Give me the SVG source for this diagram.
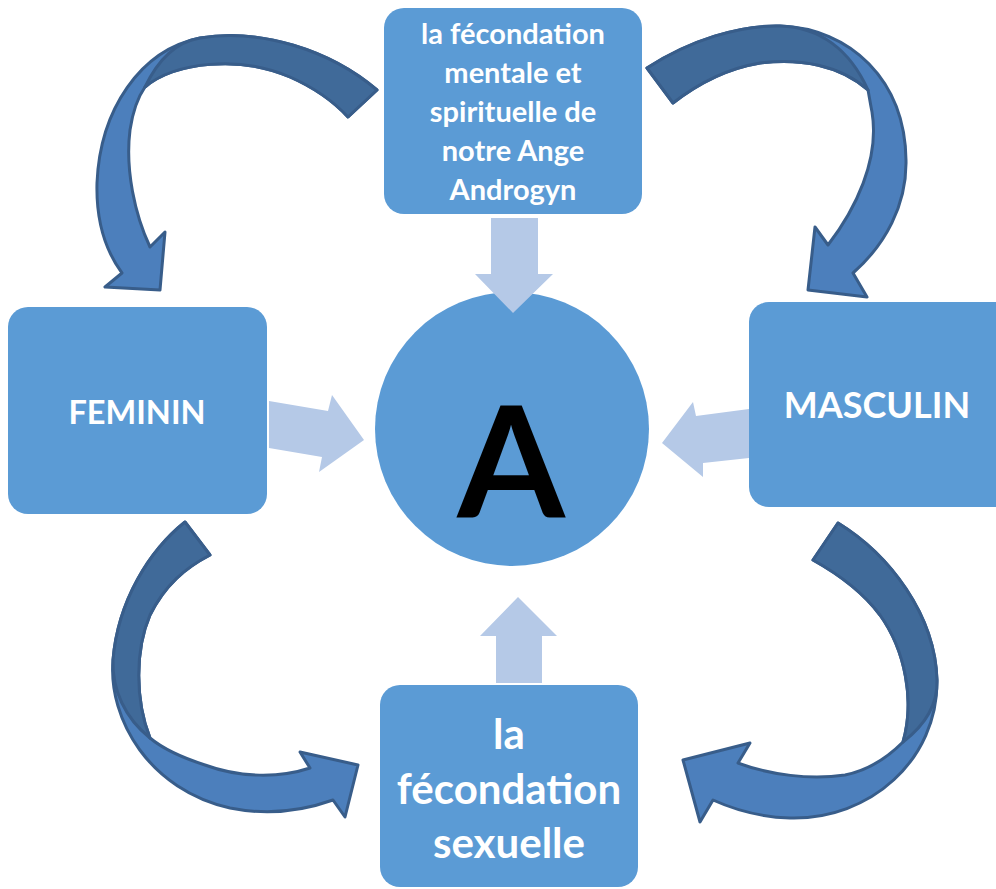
<svg xmlns="http://www.w3.org/2000/svg" width="996" height="889" viewBox="0 0 996 889">
<style>
.box{fill:#5B9BD5;}
.lt{fill:#B5C9E7;}
.cl{fill:#4C7FBC;stroke:#385D8A;stroke-width:3;stroke-linejoin:round;}
.cd{fill:#406A99;stroke:#385D8A;stroke-width:3;stroke-linejoin:round;}
.t{font-family:Lato,"Open Sans","Liberation Sans",sans-serif;font-weight:bold;fill:#FFFFFF;text-anchor:middle;}
</style>
<rect width="996" height="889" fill="#FFFFFF"/>
<g id="node-top">
  <rect class="box" x="384" y="8" width="258" height="206" rx="20"/>
  <text class="t" font-size="29"><tspan x="513" y="44">la fécondation</tspan><tspan x="513" y="83">mentale et</tspan><tspan x="513" y="122">spirituelle de</tspan><tspan x="513" y="161">notre Ange</tspan><tspan x="513" y="200">Androgyn</tspan></text>
</g>
<g id="node-feminin">
  <rect class="box" x="8" y="307" width="259" height="207" rx="20"/>
  <text class="t" x="137" y="424" font-size="32.5">FEMININ</text>
</g>
<g id="node-masculin">
  <rect class="box" x="749" y="302" width="270" height="205" rx="20"/>
  <text class="t" x="877" y="418" font-size="36">MASCULIN</text>
</g>
<g id="node-bottom">
  <rect class="box" x="380" y="685" width="258" height="202" rx="20"/>
  <text class="t" font-size="42"><tspan x="509" y="749">la</tspan><tspan x="509" y="804">fécondation</tspan><tspan x="509" y="858">sexuelle</tspan></text>
</g>
<g id="node-center">
  <circle class="box" cx="512" cy="429" r="137"/>
  <text x="511" y="518" font-family="Lato,'Open Sans','Liberation Sans',sans-serif" font-weight="bold" font-size="155" fill="#000000" text-anchor="middle">A</text>
</g>
<g id="connectors">
  <polygon class="lt" points="491,218 538,218 538,274 553,274 513,313 475,274 491,274"/>
  <polygon class="lt" points="269,401 328,411 332,395 364,440 319,472 322,457 269,448"/>
  <polygon class="lt" points="749,409 696,416 693,402 662,443 703,477 703,463 749,458"/>
  <polygon class="lt" points="496,683 496,636 480,636 518,597 557,636 542,636 542,683"/>
  <g id="arrow-top-left">
    <path class="cl" d="M377,90 C330,50 260,28 200,38 C140,50 100,110 97,183 C96,220 105,250 122,273 L105,287 L160,290 L165,232 L150,247 C135,215 125,170 130,130 C133,110 138,97 145,87 C175,62 240,55 290,77 C315,88 335,103 348,117 Z"/>
    <path class="cd" d="M377,90 C330,50 260,28 200,38 C175,42 158,60 145,87 C175,62 240,55 290,77 C315,88 335,103 348,117 Z"/>
  </g>
  <g id="arrow-top-right">
    <path class="cl" d="M647,68 C690,40 740,25 780,26 C850,28 905,80 906,160 C907,205 885,245 853,273 L867,297 L808,290 L815,227 L828,245 C855,210 880,160 872,112 C870,102 869,95 868,90 C840,65 800,58 760,63 C730,68 700,82 673,103 Z"/>
    <path class="cd" d="M647,68 C690,40 740,25 780,26 C820,27 850,50 868,90 C840,65 800,58 760,63 C730,68 700,82 673,103 Z"/>
  </g>
  <g id="arrow-bottom-left">
    <path class="cl" d="M185,522 C150,550 118,600 113,660 C108,720 150,790 230,808 C270,816 305,810 333,800 L345,817 L358,765 L300,752 L310,768 C280,778 240,778 205,765 C180,757 162,748 150,738 C135,700 135,650 150,615 C165,585 185,568 210,555 Z"/>
    <path class="cd" d="M185,522 C150,550 118,600 113,660 C112,690 125,718 150,738 C135,700 135,650 150,615 C165,585 185,568 210,555 Z"/>
  </g>
  <g id="arrow-bottom-right">
    <path class="cl" d="M838,523 C890,555 935,615 937,680 C938,760 870,820 790,818 C760,817 735,810 713,800 L700,822 L683,760 L750,743 L738,763 C770,775 810,780 845,775 C870,770 890,755 903,742 C915,700 905,650 880,615 C865,595 840,575 813,560 Z"/>
    <path class="cd" d="M838,523 C890,555 935,615 937,680 C938,705 925,725 903,742 C915,700 905,650 880,615 C865,595 840,575 813,560 Z"/>
  </g>
</g>
</svg>
